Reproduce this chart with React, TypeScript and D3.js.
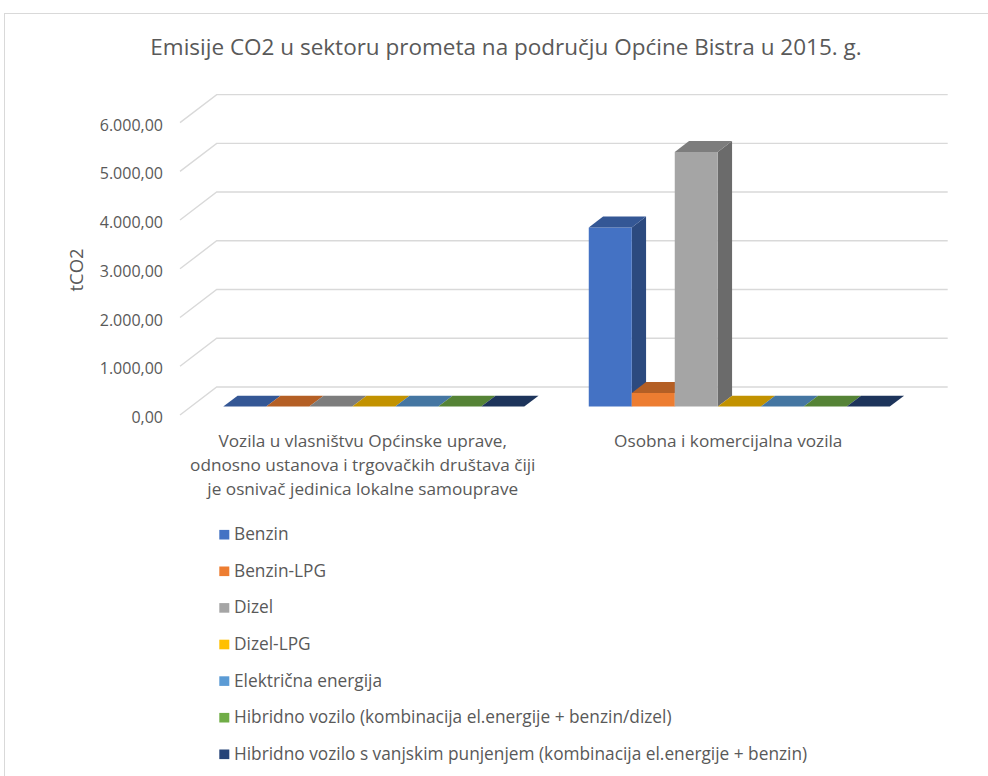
import React from 'react'
import * as d3 from 'd3'

const categories = [
  'Vozila u vlasništvu Općinske uprave, odnosno ustanova i trgovačkih društava čiji je osnivač jedinica lokalne samouprave',
  'Osobna i komercijalna vozila',
]
const seriesNames = [
  'Benzin',
  'Benzin-LPG',
  'Dizel',
  'Dizel-LPG',
  'Električna energija',
  'Hibridno vozilo (kombinacija el.energije + benzin/dizel)',
  'Hibridno vozilo s vanjskim punjenjem (kombinacija el.energije + benzin)',
]
const colors = ['#4472C4', '#ED7D31', '#A5A5A5', '#FFC000', '#5B9BD5', '#70AD47', '#264478']

// tCO2 per category
const benzin = [0, 3675]
const benzinLpg = [0, 280]
const dizel = [0, 5225]
const dizelLpg = [0, 0]
const elektricna = [0, 0]
const hibridno = [0, 0]
const hibridnoPunjenje = [0, 0]
const seriesValues = [benzin, benzinLpg, dizel, dizelLpg, elektricna, hibridno, hibridnoPunjenje]

const yTicks = [0, 1000, 2000, 3000, 4000, 5000, 6000]
const title = 'Emisije CO2 u sektoru prometa na području Općine Bistra u 2015. g.'
const yTitle = 'tCO2'

const FONT = '"Open Sans", Lato, sans-serif'
const TXT = '#595959'

const hr = d3.formatLocale({decimal: ',', thousands: '.', grouping: [3], currency: ['', '']})
const fmt = hr.format(',.2f')

// oblique 3d projection
const DX = 36.7
const DY = 28
const T_FRONT = 0.3
const T_BACK = 0.69

function shade(c: string, k: number) {
  const r = d3.rgb(c)
  return d3.rgb(r.r * k, r.g * k, r.b * k).formatHex()
}

function wrap(s: string, maxChars: number) {
  const words = s.split(' ')
  const lines: string[] = []
  let cur = ''
  words.forEach(w => {
    const next = cur ? cur + ' ' + w : w
    if (next.length > maxChars && cur) {
      lines.push(cur)
      cur = w
    } else cur = next
  })
  if (cur) lines.push(cur)
  return lines
}

export default function App() {
  const x0 = 180
  const x1 = 911
  const yScale = d3.scaleLinear().domain([0, 6000]).range([415, 122.6])
  const xCat = d3.scaleBand<string>().domain(categories).range([x0, x1])
  const xSer = d3.scaleBand<string>().domain(seriesNames).range([0, xCat.bandwidth()]).paddingOuter(0.75)

  const P = (x: number, v: number, t: number): [number, number] => [x + t * DX, yScale(v) - t * DY]
  const pts = (arr: [number, number][]) => arr.map(p => p.join(',')).join(' ')

  const bars: React.ReactNode[] = []
  categories.forEach((cat, ci) => {
    seriesNames.forEach((s, si) => {
      const v = seriesValues[si][ci]
      const xa = (xCat(cat) as number) + (xSer(s) as number)
      const xb = xa + xSer.bandwidth()
      const c = colors[si]
      const top = pts([P(xa, v, T_FRONT), P(xb, v, T_FRONT), P(xb, v, T_BACK), P(xa, v, T_BACK)])
      bars.push(
        <g key={ci + '-' + si}>
          {v > 0 && (
            <polygon
              points={pts([P(xb, 0, T_FRONT), P(xb, v, T_FRONT), P(xb, v, T_BACK), P(xb, 0, T_BACK)])}
              fill={shade(c, 0.65)}
            />
          )}
          {v > 0 && (
            <polygon
              points={pts([P(xa, 0, T_FRONT), P(xb, 0, T_FRONT), P(xb, v, T_FRONT), P(xa, v, T_FRONT)])}
              fill={c}
            />
          )}
          <polygon points={top} fill={shade(c, 0.76)} />
        </g>
      )
    })
  })

  return (
    <svg width={988} height={776} style={{position: 'absolute', left: 0, top: 0, background: '#fff'}}>
      <rect x={4.5} y={13.5} width={1000} height={800} fill="#fff" stroke="#d9d9d9" />
      <text x={506} y={55} textAnchor="middle" fontFamily={FONT} fontSize={22.5} fill={TXT}>
        {title}
      </text>

      {yTicks.map(t => (
        <g key={t}>
          <polyline
            points={pts([P(x0, t, 0), P(x0, t, 1), P(x1, t, 1)])}
            fill="none"
            stroke="#d9d9d9"
            strokeWidth={1.4}
          />
          <text x={163} y={yScale(t) + 8} textAnchor="end" fontFamily={FONT} fontSize={16} fill={TXT}>
            {fmt(t)}
          </text>
        </g>
      ))}

      <text
        transform={`translate(83,270) rotate(-90)`}
        textAnchor="middle"
        fontFamily={FONT}
        fontSize={18.5}
        fill={TXT}
      >
        {yTitle}
      </text>

      {bars}

      {categories.map(cat => {
        const cx = (xCat(cat) as number) + xCat.bandwidth() / 2
        return (
          <text key={cat} textAnchor="middle" fontFamily={FONT} fontSize={17.2} fill={TXT}>
            {wrap(cat, 43).map((ln, i) => (
              <tspan key={i} x={cx} y={446.5 + i * 24.3}>
                {ln}
              </tspan>
            ))}
          </text>
        )
      })}

      {seriesNames.map((s, i) => {
        const cy = 534.7 + i * 36.6
        return (
          <g key={s}>
            <rect x={219.3} y={cy - 4.8} width={10} height={9.6} fill={colors[i]} />
            <text x={234} y={cy + 5.5} fontFamily={FONT} fontSize={17.3} fill={TXT}>
              {s}
            </text>
          </g>
        )
      })}
    </svg>
  )
}
